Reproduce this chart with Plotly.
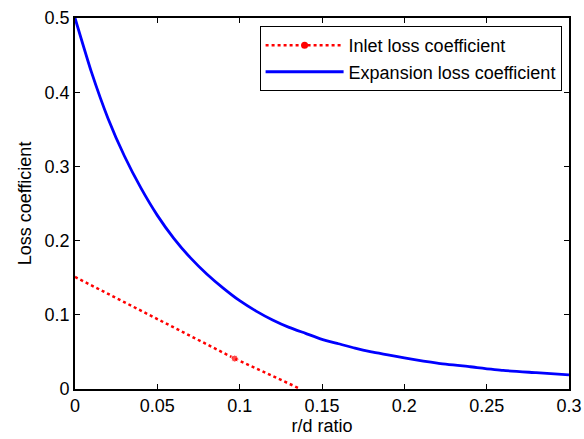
import plotly.graph_objects as go

# Inlet loss coefficient
inlet_x = [0.0, 0.097, 0.137]
inlet_y = [0.151, 0.041, 0.0]
inlet_marker_size = [0, 7, 0]

# Expansion loss coefficient
exp_x = [0.0, 0.01, 0.02, 0.03, 0.04, 0.05, 0.06, 0.07, 0.08, 0.09, 0.10,
         0.11, 0.12, 0.13, 0.14, 0.15, 0.16, 0.17, 0.18, 0.19, 0.20,
         0.22, 0.24, 0.26, 0.28, 0.30]
exp_y = [0.500, 0.427, 0.365, 0.314, 0.271, 0.234, 0.203, 0.177, 0.155, 0.136, 0.119,
         0.105, 0.093, 0.083, 0.075, 0.067, 0.061, 0.055, 0.050, 0.046, 0.042,
         0.035, 0.030, 0.025, 0.022, 0.019]

x_ticks = [0, 0.05, 0.1, 0.15, 0.2, 0.25, 0.3]
x_ticklabels = ["0", "0.05", "0.1", "0.15", "0.2", "0.25", "0.3"]
y_ticks = [0, 0.1, 0.2, 0.3, 0.4, 0.5]
y_ticklabels = ["0", "0.1", "0.2", "0.3", "0.4", "0.5"]

FONT = "Liberation Sans, Arial, sans-serif"
FS = 18

red_line = dict(color="#ff0000", width=2.5, dash="dot")

fig = go.Figure()
# Inlet: data line with a marker at the sampled point
fig.add_trace(go.Scatter(
    x=inlet_x, y=inlet_y, mode="lines+markers", name="Inlet loss coefficient",
    line=red_line, marker=dict(color="#ff0000", size=inlet_marker_size),
    legendgroup="inlet", showlegend=False,
))
# Legend entry for inlet (line + dot marker)
fig.add_trace(go.Scatter(
    x=[None], y=[None], mode="lines+markers", name="Inlet loss coefficient",
    line=red_line, marker=dict(color="#ff0000", size=7),
    legendgroup="inlet", showlegend=True,
))
fig.add_trace(go.Scatter(
    x=exp_x, y=exp_y, mode="lines", name="Expansion loss coefficient",
    line=dict(color="#0000ff", width=2.8, shape="spline", smoothing=0.5),
))

axis_common = dict(
    showgrid=False, zeroline=False, showline=True, linecolor="black", linewidth=1.6,
    mirror="ticks", ticks="inside", ticklen=5, tickwidth=1, tickcolor="black",
    tickfont=dict(family=FONT, size=FS, color="black"), automargin=False,
)

fig.update_layout(
    width=584, height=439,
    margin=dict(l=75, r=15, t=18, b=50),
    paper_bgcolor="white", plot_bgcolor="white",
    font=dict(family=FONT, size=FS, color="black"),
    showlegend=True,
    legend=dict(
        x=0.985, y=0.978, xanchor="right", yanchor="top",
        bordercolor="black", borderwidth=1, bgcolor="white",
        font=dict(family=FONT, size=FS, color="black"),
        tracegroupgap=0, itemwidth=78,
    ),
    xaxis=dict(
        range=[0, 0.3], tickvals=x_ticks, ticktext=x_ticklabels,
        title=dict(text="r/d ratio", standoff=4, font=dict(family=FONT, size=FS)),
        **axis_common,
    ),
    yaxis=dict(
        range=[0, 0.5], tickvals=y_ticks, ticktext=y_ticklabels,
        title=dict(text="Loss coefficient", standoff=8, font=dict(family=FONT, size=FS)),
        **axis_common,
    ),
)

fig.write_html("out.html")
